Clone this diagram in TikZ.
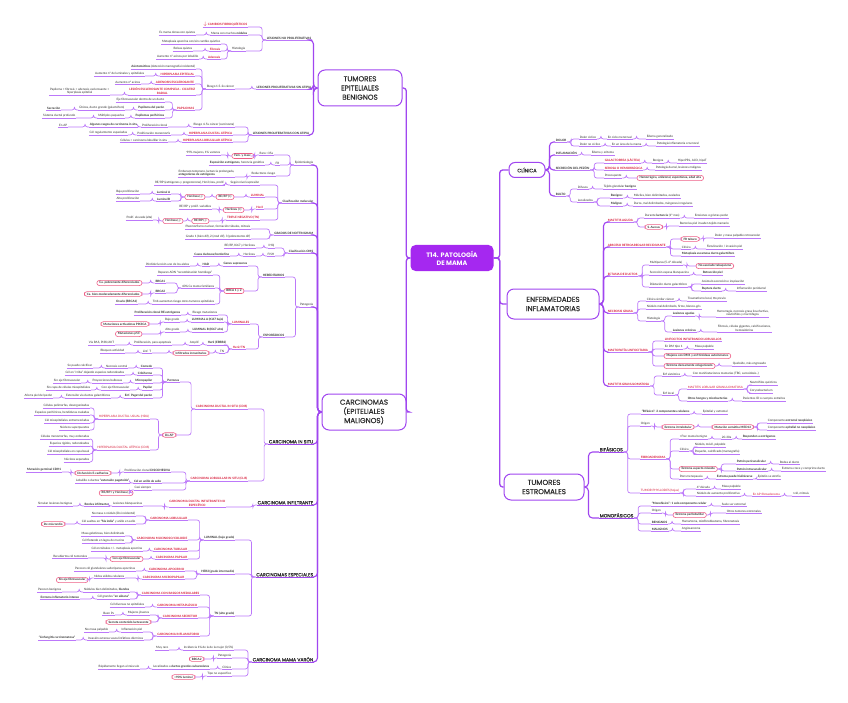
\documentclass[tikz,border=0pt]{standalone}
\usepackage{fontspec}
\setmainfont{Lato}
\newfontfamily\pop{Poppins}
\newfontfamily\popm[FakeBold=0.5]{Poppins}
\definecolor{lnc}{RGB}{188,120,250}
\definecolor{spinec}{RGB}{160,70,240}
\definecolor{cen}{RGB}{165,40,240}
\definecolor{redc}{RGB}{215,25,55}
\definecolor{pinkc}{RGB}{238,95,135}
\definecolor{txt}{RGB}{45,45,45}
\newcommand\fs{\fontsize{3}{3.7}\selectfont}
\tikzset{
 ln/.style={draw=lnc, line width=0.7pt},
 mln/.style={draw=spinec, line width=1pt},
 conn/.style={ln, rounded corners=2.5pt},
 mconn/.style={draw=spinec, line width=1.1pt, rounded corners=4pt},
 spine/.style={draw=spinec, line width=1.3pt, rounded corners=3pt},
 t/.style={font=\fs, inner xsep=0.8pt, inner ysep=0.6pt, outer sep=0pt, text=txt, align=center},
 ul/.style={t, append after command={(\tikzlastnode.south west) edge[ln] (\tikzlastnode.south east)}},
 bd/.style={ul, font=\fs\bfseries},
 rd/.style={ul, font=\fs\bfseries, text=redc},
 rdn/.style={ul, text=redc},
 pk/.style={t, draw=pinkc, line width=0.6pt, rounded corners=2.5pt, fill=white, inner xsep=2.5pt, inner ysep=1.2pt, font=\fs\bfseries},
 sub/.style={t, font=\popm\fontsize{4.6}{5.6}\selectfont, append after command={(\tikzlastnode.south west) edge[mln] (\tikzlastnode.south east)}},
 top/.style={draw=spinec, line width=1pt, rounded corners=7pt, align=center, font=\popm\fontsize{7.2}{9.2}\selectfont, text=txt, inner sep=2pt},
}
\newcommand\NL[4]{\node[#1,anchor=south east] (#2) at (#3) {#4};}
\newcommand\NR[4]{\node[#1,anchor=south west] (#2) at (#3) {#4};}
\newcommand\NPL[3]{\node[pk,anchor=east] (#1) at (#2) {#3};}
\newcommand\NPR[3]{\node[pk,anchor=west] (#1) at (#2) {#3};}
\newcommand\Lc[2]{\draw[conn] (#1) -- ++(-4,0) |- (#2);}
\newcommand\Rc[2]{\draw[conn] (#1) -- ++(4,0) |- (#2);}
\newcommand\cLL[2]{\Lc{#1.south west}{#2.south east}}
\newcommand\cLP[2]{\Lc{#1.south west}{#2.east}}
\newcommand\cPL[2]{\Lc{#1.west}{#2.south east}}
\newcommand\cPPl[2]{\Lc{#1.west}{#2.east}}
\newcommand\cRR[2]{\Rc{#1.south east}{#2.south west}}
\newcommand\cRP[2]{\Rc{#1.south east}{#2.west}}
\newcommand\cPR[2]{\Rc{#1.east}{#2.south west}}
\newcommand\cPPr[2]{\Rc{#1.east}{#2.west}}
\newcommand\mL[2]{\draw[mconn] (#1.west) -- ++(-4,0) |- (#2.south east);}
\newcommand\mR[2]{\draw[mconn] (#1.east) -- ++(4,0) |- (#2.south west);}
\begin{document}
\begin{tikzpicture}[x=1pt,y=-1pt]
\fill[white] (0,0) rectangle (848,703);
\useasboundingbox (0,0) rectangle (848,703);

% ===== central =====
\node[fill=cen, text=white, rounded corners=5pt, minimum width=83pt, minimum height=26pt, font=\pop\bfseries\fontsize{6.4}{8.2}\selectfont, align=center] (c) at (452,258) {T14. PATOLOGÍA\\DE MAMA};

% ===== main topics =====
\node[top, minimum width=84pt, minimum height=36pt] (teb) at (360,88) {TUMORES\\EPITELIALES\\BENIGNOS};
\node[top, minimum width=84pt, minimum height=36pt] (car) at (364,412) {CARCINOMAS\\(EPITELIALES\\MALIGNOS)};
\node[top, minimum width=36pt, minimum height=15pt, rounded corners=6pt, font=\popm\fontsize{5}{6}\selectfont] (cli) at (527,170) {CLÍNICA};
\node[top, minimum width=92pt, minimum height=30pt] (ei) at (553,304) {ENFERMEDADES\\INFLAMATORIAS};
\node[top, minimum width=80pt, minimum height=26pt] (te) at (544,487) {TUMORES\\ESTROMALES};

\draw[spine] (c.west) -- ++(-4,0) |- (teb.east);
\draw[spine] (c.west) -- ++(-4,0) |- (car.east);
\draw[spine] (c.east) -- ++(6,0) |- (cli.west);
\draw[spine] (c.east) -- ++(6,0) |- (ei.west);
\draw[spine] (c.east) -- ++(6,0) |- (te.west);

% ===== TUMORES EPITELIALES BENIGNOS =====
\NL{bd}{lnp}{312,40}{LESIONES NO PROLIFERATIVAS}
\NL{rd}{cf}{248,27}{$\downarrow$ CAMBIOS FIBROQUÍSTICOS}
\NL{ul}{mm}{248,35}{Mama con muchos \textbf{nódulos}}
\NL{ul}{em}{196,35}{Es mama densa con quistes}
\NL{ul}{hi}{246,51}{Histología}
\NL{ul}{mp}{221,44}{Metaplasia apocrina con/sin cambio quístico}
\NL{rd}{fb}{221,51}{Fibrosis}
\NL{ul}{bq}{193,51}{Bolsas quistes}
\NL{rd}{ad}{221,59}{Adenosis}
\NL{ul}{an}{199,59}{Aumento nº acinos por lobulillo}
\mL{teb}{lnp}
\cLL{lnp}{cf}\cLL{lnp}{mm}\cLL{mm}{em}\cLL{lnp}{hi}
\cLL{hi}{mp}\cLL{hi}{fb}\cLL{fb}{bq}\cLL{hi}{ad}\cLL{ad}{an}

\NL{bd}{lps}{312,89}{LESIONES PROLIFERATIVAS SIN ATIPIA}
\NL{ul}{r15}{235,89}{Riesgo 1.5-2x cáncer}
\NL{ul}{asi}{196,69}{\textbf{Asintomáticos} (detección mamografía incidental)}
\NL{rd}{hep}{195,76}{HIPERPLASIA EPITELIAL}
\NL{ul}{hep1}{145,76}{Aumento nº de luminales y epiteliales}
\NL{rd}{aes}{195,84}{ADENOSIS ESCLEROSANTE}
\NL{ul}{aes1}{141,84}{Aumento nº acinos}
\NL{rd}{lec}{196,95}{LESIÓN ESCLEROSANTE COMPLEJA - CICATRIZ\\RADIAL}
\NL{ul}{lec1}{110,95}{Papiloma + fibrosis + adenosis esclerosante +\\hiperplasia epitelial}
\NL{rd}{pap}{195,110}{PAPILOMAS}
\NL{ul}{pa1}{165,102}{Eje fibrovascular dentro de un ducto}
\NL{bd}{pa2}{165,110}{Papiloma del pezón}
\NL{ul}{pa21}{125,110}{Únicos, ducto grande (galactóforo)}
\NL{bd}{pa22}{61,110}{Secreción}
\NL{bd}{pa3}{165,118}{Papilomas periféricos}
\NL{ul}{pa31}{125,118}{Múltiples pequeños}
\NL{ul}{pa32}{76,118}{Sistema ductal profundo}
\mL{teb}{lps}
\cLL{lps}{r15}\cLL{r15}{asi}\cLL{r15}{hep}\cLL{r15}{aes}\cLL{r15}{lec}\cLL{r15}{pap}
\cLL{hep}{hep1}\cLL{aes}{aes1}\cLL{lec}{lec1}
\cLL{pap}{pa1}\cLL{pap}{pa2}\cLL{pap}{pa3}\cLL{pa2}{pa21}\cLL{pa21}{pa22}\cLL{pa3}{pa31}\cLL{pa31}{pa32}

\NL{bd}{lpc}{310,135}{LESIONES PROLIFERATIVAS CON ATIPIA}
\NL{ul}{r45}{235,127}{Riesgo 4-5x cáncer (carcinoma)}
\NL{ul}{r451}{168,127}{Proliferación clonal}
\NL{bd}{r452}{138,127}{Algunos rasgos de carcinoma in situ}
\NL{ul}{r453}{68,127}{En AP}
\NL{rd}{hda}{233,135}{HIPERPLASIA DUCTAL ATÍPICA}
\NL{ul}{hda1}{171,135}{Proliferación monomorfa}
\NL{ul}{hda2}{128,135}{Cél regularmente espaciadas}
\NL{rd}{hla}{233,142}{HIPERPLASIA LOBULILLAR ATÍPICA}
\NL{ul}{hla1}{168,142}{Células = carcinoma lobulillar in situ}
\mL{teb}{lpc}
\cLL{lpc}{r45}\cLL{lpc}{hda}\cLL{lpc}{hla}
\cLL{r45}{r451}\cLL{r451}{r452}\cLL{r452}{r453}\cLL{hda}{hda1}\cLL{hda1}{hda2}\cLL{hla}{hla1}

% ===== CARCINOMAS =====
\NL{ul}{epi}{314,165}{Epidemiología}
\NL{ul}{ep1}{274,155}{Raro <35a}
\NPL{ep1p}{254,156}{Fem. y masc.}
\NL{ul}{ep1a}{221,155}{99\% mujeres, 1\% varones}
\NL{ul}{ep2}{280,165}{FR}
\NL{ul}{ep2a}{265,165}{\textbf{Exposición estrógenos}, herencia genética}
\NL{ul}{ep3}{276,176}{Reductores riesgo}
\NL{ul,align=left}{ep3a}{235,177}{Embarazo temprano, lactancia prolongada,\\\textbf{antagonistas de estrógenos}}
\mL{car}{epi}
\cLL{epi}{ep1}\cLL{epi}{ep2}\cLL{epi}{ep3}\cLP{ep1}{ep1p}\cPL{ep1p}{ep1a}\cLL{ep2}{ep2a}\cLL{ep3}{ep3a}

\NL{bd}{cm}{314,203}{Clasificación molecular}
\NL{ul}{cm1}{260,185}{Según nivel expresión}
\NL{ul}{cm1a}{225,185}{RE/RP (estrógenos y progesterona), Her2/neu, prolif.}
\NL{rd}{lum}{265,197}{LUMINAL}
\NPL{lump1}{234,197}{RE/RP (+)}
\NPL{lump2}{205,197}{Her2neu (-)}
\NL{bd}{lA}{171,194}{Luminal A}
\NL{ul}{lA1}{140,194}{Baja proliferación}
\NL{bd}{lB}{171,201}{Luminal B}
\NL{ul}{lB1}{140,201}{Alta proliferación}
\NL{rd}{h2}{264,209}{Her2}
\NPL{h2p}{244,210}{Her2neu (+)}
\NL{ul}{h2a}{212,209}{RE/RP y prolif. variables}
\NL{rd}{tn}{260,220}{TRIPLE NEGATIVO (TN)}
\NPL{tnp1}{209,221}{RE/RP (-)}
\NPL{tnp2}{183,221}{Her2neu (-)}
\NL{ul}{tna}{153,220}{Prolif. elevada (alta)}
\mL{car}{cm}
\cLL{cm}{cm1}\cLL{cm}{lum}\cLL{cm}{h2}\cLL{cm}{tn}\cLL{cm1}{cm1a}
\cLP{lum}{lump1}\cPPl{lump1}{lump2}\cPL{lump2}{lA}\cPL{lump2}{lB}\cLL{lA}{lA1}\cLL{lB}{lB1}
\cLP{h2}{h2p}\cPL{h2p}{h2a}\cLP{tn}{tnp1}\cPPl{tnp1}{tnp2}\cPL{tnp2}{tna}

\NL{bd}{gn}{314,235}{GRADOS DE NOTTINGHAM}
\NL{ul}{gn1}{251,229}{Pleomorfismo nuclear, formación túbulos, mitosis}
\NL{ul}{gn2}{251,239}{Grado 1 (bien dif), 2 (mod dif), 3 (pobremente dif)}
\mL{car}{gn}\cLL{gn}{gn1}\cLL{gn}{gn2}

\NL{bd}{oms}{314,253}{Clasificación OMS}
\NL{ul}{oms1}{275,248}{IHQ}
\NL{ul}{oms1a}{256,248}{RE/RP, Ki67 y Her2neu}
\NL{ul}{oms2}{275,256}{FISH}
\NL{ul}{oms2a}{256,256}{Her2neu}
\NL{bd}{oms2b}{230,256}{Casos dudosos/borderline}
\mL{car}{oms}\cLL{oms}{oms1}\cLL{oms}{oms2}\cLL{oms1}{oms1a}\cLL{oms2}{oms2a}\cLL{oms2a}{oms2b}

\NL{ul}{pat}{314,307}{Patogenia}
\NL{bd}{her}{285,277}{HEREDITARIOS}
\NL{bd}{gs}{248,266}{Genes supresores}
\NL{bd}{gs1}{210,266}{HAD}
\NL{ul}{gs2}{190,266}{Pérdida función uno de los alelos}
\NPL{brca}{244,291}{BRCA 1 y 2}
\NL{ul}{br1}{213,275}{Reparan ADN “recombinación homóloga”}
\NL{ul}{br2}{215,288}{40\% Ca mama familiares}
\NL{bd}{br2a}{166,283}{BRCA1}
\NL{bd}{br2b}{166,293}{BRCA2}
\NPL{br2ap}{142,283}{Ca. pobremente diferenciados}
\NPL{br2bp}{142,294}{Ca. bien-moderadamente diferenciados}
\NL{ul}{br3}{215,304}{Tmb aumentan riesgo otros tumores epiteliales}
\NL{bd}{br3a}{138,304}{Ovario (BRCA1)}
\mL{car}{pat}
\cLL{pat}{her}\cLL{her}{gs}\cLP{her}{brca}\cLL{gs}{gs1}\cLL{gs1}{gs2}
\cPL{brca}{br1}\cPL{brca}{br2}\cPL{brca}{br3}\cLL{br2}{br2a}\cLL{br2}{br2b}
\cLP{br2a}{br2ap}\cLP{br2b}{br2bp}\cLL{br3}{br3a}

\NL{bd}{esp}{285,337}{ESPORÁDICOS}
\NL{rd}{lumi}{250,324}{LUMINALES}
\NL{ul}{lu1}{218,315}{Riesgo mutaciones}
\NL{bd}{lu1a}{181,315}{Proliferación clonal RE estrógenos}
\NL{bd}{luA}{224,322}{LUMINAL A (Ki67 bajo)}
\NL{ul}{luA1}{180,322}{Bajo grado}
\NPL{luAp}{149,324}{Mutaciones activadoras PIK3CA}
\NL{bd}{luB}{224,332}{LUMINAL B (Ki67 alto)}
\NL{ul}{luB1}{180,332}{Alto grado}
\NPL{luBp}{142,334}{Mutaciones p53}
\NL{rd}{nl}{246,349}{Her2/TN}
\NL{bd}{nl1}{227,345}{Her2 (ERBB2)}
\NL{ul}{nl1a}{200,345}{Amplif.}
\NL{ul}{nl1b}{172,345}{Proliferación, para apoptosis}
\NL{ul}{nl1c}{115,345}{Vía RAS, PI3K/AKT}
\NL{ul}{nl2}{225,353}{TN}
\NPL{nl2p}{209,353}{Infiltrados inmunitarios}
\NL{ul}{nl2a}{152,353}{Linf. T}
\NL{ul}{nl2b}{125,353}{Bloqueo actividad}
\cLL{pat}{esp}
\cLL{esp}{lumi}\cLL{esp}{nl}
\cLL{lumi}{lu1}\cLL{lumi}{luA}\cLL{lumi}{luB}\cLL{lu1}{lu1a}
\cLL{luA}{luA1}\cLP{luA1}{luAp}\cLL{luB}{luB1}\cLP{luB1}{luBp}
\cLL{nl}{nl1}\cLL{nl}{nl2}\cLL{nl1}{nl1a}\cLL{nl1a}{nl1b}\cLL{nl1b}{nl1c}
\cLP{nl2}{nl2p}\cPL{nl2p}{nl2a}\cLL{nl2a}{nl2b}

% carcinoma in situ
\NL{sub}{cis}{314,444}{CARCINOMA IN SITU}
\NL{rd}{cdis}{248,409}{CARCINOMA DUCTAL IN SITU (CDIS)}
\NL{bd}{patr}{180,382}{Patrones}
\NL{bd}{p1}{153,368}{Comedo}
\NL{ul}{p1a}{128,368}{Necrosis central}
\NL{ul}{p1b}{93,368}{Se puede calcificar}
\NL{bd}{p2}{153,375}{Cribiforme}
\NL{ul}{p2a}{125,375}{Cél en “criba” dejando espacios redondeados}
\NL{bd}{p3}{153,383}{Micropapilar}
\NL{ul}{p3a}{123,383}{Proyecciones bulbosas}
\NL{ul}{p3b}{81,383}{Sin eje fibrovascular}
\NL{bd}{p4}{153,390}{Papilar}
\NL{ul}{p4a}{130,390}{Con eje fibrovascular}
\NL{ul}{p4b}{91,390}{Sin capa de células mioepiteliales}
\NL{bd}{p5}{153,398}{Enf. Paget del pezón}
\NL{ul}{p5a}{111,398}{Extensión vía ductos galactóforos}
\NL{ul}{p5b}{53,398}{Afecta piel del pezón}
\NPL{dxap}{176,435}{Dx AP}
\NL{rdn}{hdu}{150,419}{HIPERPLASIA DUCTAL USUAL (HDU)}
\NL{ul}{hdu1}{90,408}{Células polimorfas, desorganizadas}
\NL{ul}{hdu2}{90,415}{Espacios periféricos, hendiduras ovaladas}
\NL{ul}{hdu3}{90,423}{Cél mioepiteliales entremezcladas}
\NL{ul}{hdu4}{90,430}{Núcleos superpuestos}
\NL{rdn}{hda3}{150,450}{HIPERPLASIA DUCTAL ATÍPICA (CDIS)}
\NL{ul}{hd1}{90,439}{Células monomorfas, muy ordenadas}
\NL{ul}{hd2}{90,446}{Espacios rígidos, redondeados}
\NL{ul}{hd3}{90,454}{Cél mioepiteliales en capa basal}
\NL{ul}{hd4}{90,462}{Núcleos separados}
\mL{car}{cis}
\cLL{cis}{cdis}\cLL{cdis}{patr}\cLP{cdis}{dxap}
\cLL{patr}{p1}\cLL{patr}{p2}\cLL{patr}{p3}\cLL{patr}{p4}\cLL{patr}{p5}
\cLL{p1}{p1a}\cLL{p1a}{p1b}\cLL{p2}{p2a}\cLL{p3}{p3a}\cLL{p3a}{p3b}\cLL{p4}{p4a}\cLL{p4a}{p4b}\cLL{p5}{p5a}\cLL{p5a}{p5b}
\cPL{dxap}{hdu}\cPL{dxap}{hda3}
\cLL{hdu}{hdu1}\cLL{hdu}{hdu2}\cLL{hdu}{hdu3}\cLL{hdu}{hdu4}
\cLL{hda3}{hd1}\cLL{hda3}{hd2}\cLL{hda3}{hd3}\cLL{hda3}{hd4}

\NL{rd}{clis}{248,481}{CARCINOMA LOBULILLAR IN SITU (CLIS)}
\NL{ul}{cl1}{171,472}{Proliferación clonal \textbf{DISCOHESIVA}}
\NPL{cl1p}{111,473}{Disfunción E-cadherina}
\NL{bd}{cl1a}{62,472}{Mutación germinal CDH1}
\NL{bd}{cl2}{162,483}{Cél en anillo de sello}
\NL{ul}{cl2a}{130,483}{Lobulillo o ductos \textbf{“extensión pagetoide”}}
\NL{ul}{cl3}{152,490}{Casi siempre}
\NPL{cl3p}{133,493}{RE/RP+ y Her2neu (-)}
\cLL{cis}{clis}
\cLL{clis}{cl1}\cLL{clis}{cl2}\cLL{clis}{cl3}\cLP{cl1}{cl1p}\cPL{cl1p}{cl1a}\cLL{cl2}{cl2a}\cLP{cl3}{cl3p}

% carcinoma infiltrante
\NL{sub}{cinf}{314,505}{CARCINOMA INFILTRANTE}
\NL{rd}{cdi}{226,507}{CARCINOMA DUCTAL INFILTRANTE NO\\ESPECÍFICO}
\NL{ul}{cdi1}{143,506}{Lesiones blanquecinas}
\NL{bd}{cdi2}{110,506}{Bordes infiltrantes}
\NL{ul}{cdi3}{73,506}{Simulan lesiones benignas}
\mL{car}{cinf}
\cLL{cinf}{cdi}\cLL{cdi}{cdi1}\cLL{cdi1}{cdi2}\cLL{cdi2}{cdi3}

% carcinomas especiales
\NL{sub}{cesp}{314,577}{CARCINOMAS ESPECIALES}
\NL{bd}{lbg}{235,540}{LUMINAL (bajo grado)}
\NL{rd}{clob}{188,520}{CARCINOMA LOBULILLAR}
\NL{ul}{clob1}{136,516}{No masa o nódulo (Dx incidental)}
\NL{ul}{clob2}{136,524}{Cél sueltas en \textbf{“fila india”} y anillo en sello}
\NPL{clob2p}{65,524}{Dx más tardío}
\NL{rd}{cmu}{188,540}{CARCINOMA MUCINOSO/COLOIDE}
\NL{ul}{cmu1}{125,536}{Masa gelatinosa, bien delimitada}
\NL{ul}{cmu2}{125,543}{Cél flotando en lagos de mucina}
\NL{rd}{ctu}{188,551}{CARCINOMA TUBULAR}
\NL{ul}{ctu1}{143,551}{Cél en túbulos +/- metaplasia apocrina}
\NL{rd}{cpa}{188,559}{CARCINOMA PAPILAR}
\NPL{cpap}{143,559}{Con eje fibrovascular}
\NL{ul}{cpa1}{88,558}{Recubiertos cél tumorales}
\NL{bd}{h2g}{235,574}{HER2 (grado intermedio)}
\NL{rd}{cap}{185,571}{CARCINOMA APOCRINO}
\NL{ul}{cap1}{136,571}{Parecen cél glandulares sudoríparas apocrinas}
\NL{rd}{cmp}{185,579}{CARCINOMA MICROPAPILAR}
\NL{ul}{cmp1}{125,578}{Nidos sólidos celulares}
\NPL{cmpp}{88,580}{Sin eje fibrovascular}
\NL{bd}{tng}{235,616}{TN (alto grado)}
\NL{rd}{cme}{200,595}{CARCINOMA CON RASGOS MEDULARES}
\NL{ul}{cme1}{130,592}{Nódulos bien delimitados, \textbf{blandos}}
\NL{ul}{cme1a}{62,592}{Parecen benignos}
\NL{ul}{cme2}{130,599}{Cél grandes \textbf{“en sábana”}}
\NL{bd}{cme2a}{80,599}{Estroma inflamatorio intenso}
\NL{rd}{cmt}{198,607}{CARCINOMA METAPLÁSICO}
\NL{ul}{cmt1}{145,607}{Cél diversas no epiteliales}
\NL{rd}{cse}{198,618}{CARCINOMA SECRETOR}
\NL{ul}{cse1}{150,615}{Mujeres jóvenes}
\NL{ul}{cse1a}{115,615}{Buen Px}
\NPL{csep}{151,622}{Secreta contenido lactescente}
\NL{rd}{cinfl}{200,636}{CARCINOMA INFLAMATORIO}
\NL{ul}{ci1}{143,632}{Inflamación piel}
\NL{ul}{ci1a}{109,632}{No masa palpable}
\NL{ul}{ci2}{144,640}{Invasión extensa vasos linfáticos dérmicos}
\NL{bd}{ci2a}{76,640}{“Linfangitis carcinomatosa”}
\mL{car}{cesp}
\cLL{cesp}{lbg}\cLL{cesp}{h2g}\cLL{cesp}{tng}
\cLL{lbg}{clob}\cLL{lbg}{cmu}\cLL{lbg}{ctu}\cLL{lbg}{cpa}
\cLL{clob}{clob1}\cLL{clob}{clob2}\cLP{clob2}{clob2p}
\cLL{cmu}{cmu1}\cLL{cmu}{cmu2}\cLL{ctu}{ctu1}\cLP{cpa}{cpap}\cPL{cpap}{cpa1}
\cLL{h2g}{cap}\cLL{h2g}{cmp}\cLL{cap}{cap1}\cLL{cmp}{cmp1}\cLP{cmp1}{cmpp}
\cLL{tng}{cme}\cLL{tng}{cmt}\cLL{tng}{cse}\cLL{tng}{cinfl}
\cLL{cme}{cme1}\cLL{cme}{cme2}\cLL{cme1}{cme1a}\cLL{cme2}{cme2a}
\cLL{cmt}{cmt1}\cLL{cse}{cse1}\cLL{cse1}{cse1a}\cLP{cse}{csep}
\cLL{cinfl}{ci1}\cLL{cinfl}{ci2}\cLL{ci1}{ci1a}\cLL{ci2}{ci2a}

% carcinoma mama varón
\NL{sub}{cmv}{314,662}{CARCINOMA MAMA VARÓN}
\NL{ul}{cv1}{234,650}{Incidencia 1\% de la de la mujer (0,5\%)}
\NL{ul}{cv1a}{169,650}{Muy raro}
\NL{ul}{cv2}{232,658}{Patogenia}
\NPL{cv2p}{204,659}{BRCA2}
\NL{ul}{cv3}{232,669}{Clínica}
\NL{ul}{cv3a}{210,669}{Localizados a \textbf{ductos grandes subareolares}}
\NL{ul}{cv3b}{140,669}{Rápidamente llegan al músculo}
\NL{ul}{cv4}{232,676}{Tipo no específico}
\NPL{cv4p}{195,677}{>90\% luminal}
\mL{car}{cmv}
\cLL{cmv}{cv1}\cLL{cmv}{cv2}\cLL{cmv}{cv3}\cLL{cmv}{cv4}
\cLL{cv1}{cv1a}\cLP{cv2}{cv2p}\cLL{cv3}{cv3a}\cLL{cv3a}{cv3b}\cLP{cv4}{cv4p}

% ===== CLÍNICA =====
\NR{bd}{dol}{555,142}{DOLOR}
\NR{ul}{d1}{579,139}{Dolor cíclico}
\NR{ul}{d1a}{607,139}{En ciclo menstrual}
\NR{ul}{d1b}{646,139}{Edema generalizado}
\NR{ul}{d2}{579,146}{Dolor no cíclico}
\NR{ul}{d2a}{611,146}{En un área de la mama}
\NR{ul}{d2b}{656,146}{Patología inflamatoria o tumoral}
\NR{bd}{inf}{555,155}{INFLAMACIÓN}
\NR{ul}{inf1}{591,155}{Edema y eritema}
\NR{bd}{sec}{555,170}{SECRECIÓN DEL PEZÓN}
\NR{rd}{s1}{604,163}{GALACTORREA (LÁCTEA)}
\NR{ul}{s1a}{652,163}{Benigna}
\NR{ul}{s1b}{677,163}{HiperPRL, ACO, hipoT}
\NR{rd}{s2}{604,170}{SEROSA O HEMORRÁGICA}
\NR{ul}{s2a}{655,170}{Patología ductal, lesiones malignas}
\NR{ul}{s3}{604,178}{Preocupante}
\NPR{s3p}{637,178}{Hemorrágica, unilateral, espontánea, edad alta}
\NR{bd}{bul}{555,196}{BULTO}
\NR{ul}{b1}{577,189}{Difusos}
\NR{ul}{b1a}{603,189}{Tejido glandular \textbf{benigno}}
\NR{ul}{b2}{577,202}{Localizados}
\NR{bd}{b2a}{610,198}{Benigno:}
\NR{ul}{b2a1}{633,198}{Móviles, bien delimitados, ovalados}
\NR{bd}{b2b}{610,206}{Maligno:}
\NR{ul}{b2b1}{633,206}{Duros, mal delimitados, márgenes irregulares}
\mR{cli}{dol}\mR{cli}{inf}\mR{cli}{sec}\mR{cli}{bul}
\cRR{dol}{d1}\cRR{dol}{d2}\cRR{d1}{d1a}\cRR{d1a}{d1b}\cRR{d2}{d2a}\cRR{d2a}{d2b}
\cRR{inf}{inf1}
\cRR{sec}{s1}\cRR{sec}{s2}\cRR{sec}{s3}\cRR{s1}{s1a}\cRR{s1a}{s1b}\cRR{s2}{s2a}\cRP{s3}{s3p}
\cRR{bul}{b1}\cRR{bul}{b2}\cRR{b1}{b1a}\cRR{b2}{b2a}\cRR{b2}{b2b}\cRR{b2a}{b2a1}\cRR{b2b}{b2b1}

% ===== ENFERMEDADES INFLAMATORIAS =====
\NR{rd}{ma}{607,222}{MASTITIS AGUDA}
\NR{ul}{ma1}{644,218}{Durante \textbf{lactancia} (1º mes)}
\NR{ul}{ma1a}{694,218}{Erosiones o grietas pezón}
\NPR{map}{645,227}{S. Aureus}
\NR{ul}{map1}{679,226}{Bacterias piel invaden tejido mamario}
\NR{rd}{arr}{607,247}{ABSCESO RETROAREOLAR RECIDIVANTE}
\NPR{arrp}{681,239}{FR tabaco}
\NR{ul}{arrp1}{714,238}{Dolor y masa palpable retroareolar}
\NR{ul}{arr2}{681,249}{Clínica}
\NR{ul}{arr2a}{706,249}{Fistulización / invasión piel}
\NR{bd}{arr3}{681,256}{Metaplasia escamosa ducto galactóforo}
\NR{rd}{ect}{607,276}{ECTASIA DE DUCTOS}
\NR{ul}{ec1}{649,265}{Multíparas (5-6º década)}
\NPR{ec1p}{696,266}{No asociado tabaquismo}
\NR{ul}{ec2}{649,275}{Secreción espesa blanquecina}
\NR{bd}{ec2a}{702,275}{Retracción piel}
\NR{ul}{ec3}{649,287}{Dilatación ducto galactóforo}
\NR{ul}{ec3a}{701,284}{Acúmulo secreción e inspisación}
\NR{bd}{ec3b}{701,291}{Ruptura ducto}
\NR{ul}{ec3b1}{736,291}{Inflamación periductal}
\NR{rd}{ng}{607,313}{NECROSIS GRASA}
\NR{ul}{ng1}{646,301}{Clínica similar cáncer}
\NR{ul}{ng1a}{687,301}{Traumatismo local, tto previo}
\NR{ul}{ng2}{646,309}{Nódulo mal delimitado, firme, blanco-gris}
\NR{ul}{ng3}{646,321}{Histología}
\NR{bd}{ng3a}{672,316}{Lesiones agudas}
\NR{ul}{ng3a1}{716,317}{Hemorragia, necrosis grasa licuefactiva,\\neutrófilos y macrófagos}
\NR{bd}{ng3b}{672,332}{Lesiones crónicas}
\NR{ul}{ng3b1}{717,332}{Fibrosis, células gigantes, calcificaciones,\\hemosiderina}
\NR{rd}{ml}{607,352}{MASTOPATÍA LINFOCITARIA}
\NR{rd}{ml1}{664,341}{LINFOCITOS INFILTRANDO LOBULILLOS}
\NR{ul}{ml2}{664,349}{En DM tipo 1}
\NR{ul}{ml2a}{694,349}{Masa palpable}
\NPR{ml3}{664,356}{Mujeres con DM1 y enf tiroideas autoinmunes}
\NPR{ml4}{664,366}{Estroma densamente colagenizado}
\NR{ul}{ml4a}{732,366}{Queloide, más engrosado}
\NR{rd}{mg}{607,386}{MASTITIS GRANULOMATOSA}
\NR{ul}{mg1}{662,376}{Enf sistémica}
\NR{ul}{mg1a}{692,376}{Con manifestaciones mamarias (TBC, sarcoidosis..)}
\NR{ul}{mg2}{662,395}{Enf local}
\NR{rdn}{mg2a}{687,389}{MASTITIS LOBULAR GRANULOMATOSA}
\NR{ul}{mg2a1}{749,385}{Neutrófilos quísticos}
\NR{ul}{mg2a2}{749,393}{Corynebacterium}
\NR{bd}{mg2b}{687,401}{Otros hongos y micobacterias}
\NR{ul}{mg2b1}{742,401}{Pacientes ID o cuerpos extraños}
\mR{ei}{ma}\mR{ei}{arr}\mR{ei}{ect}\mR{ei}{ng}\mR{ei}{ml}\mR{ei}{mg}
\cRR{ma}{ma1}\cRP{ma}{map}\cRR{ma1}{ma1a}\cPR{map}{map1}
\cRP{arr}{arrp}\cRR{arr}{arr2}\cRR{arr}{arr3}\cPR{arrp}{arrp1}\cRR{arr2}{arr2a}
\cRR{ect}{ec1}\cRR{ect}{ec2}\cRR{ect}{ec3}\cRP{ec1}{ec1p}\cRR{ec2}{ec2a}\cRR{ec3}{ec3a}\cRR{ec3}{ec3b}\cRR{ec3b}{ec3b1}
\cRR{ng}{ng1}\cRR{ng}{ng2}\cRR{ng}{ng3}\cRR{ng1}{ng1a}\cRR{ng3}{ng3a}\cRR{ng3}{ng3b}\cRR{ng3a}{ng3a1}\cRR{ng3b}{ng3b1}
\cRR{ml}{ml1}\cRR{ml}{ml2}\cRP{ml}{ml3}\cRP{ml}{ml4}\cRR{ml2}{ml2a}\cPR{ml4}{ml4a}
\cRR{mg}{mg1}\cRR{mg}{mg2}\cRR{mg1}{mg1a}\cRR{mg2}{mg2a}\cRR{mg2}{mg2b}\cRR{mg2a}{mg2a1}\cRR{mg2a}{mg2a2}\cRR{mg2b}{mg2b1}

% ===== TUMORES ESTROMALES =====
\NR{sub}{bif}{599,452}{BIFÁSICOS}
\NR{bd}{bf1}{641,414}{“Bifásico”: 2 componentes celulares}
\NR{ul}{bf1a}{702,414}{Epitelial y estromal}
\NR{ul}{bf2}{640,426}{Origen}
\NPR{bf2p}{662,427}{Estroma intralobular}
\NPR{bf2q}{712,427}{Mutación somática MED12}
\NR{ul}{bf2q1}{767,423}{Componente \textbf{estromal neoplásico}}
\NR{ul}{bf2q2}{767,430}{Componente \textbf{epitelial no neoplásico}}
\NR{rd}{fa}{640,459}{FIBROADENOMA}
\NR{ul}{fa1}{679,439}{+Frec mama benigno}
\NR{ul}{fa1a}{721,439}{20-30a}
\NR{bd}{fa1b}{742,439}{Responden a estrógenos}
\NR{ul}{fa2}{679,451}{Clínica}
\NR{ul}{fa2a}{694,447}{Nódulo, móvil, palpable}
\NR{ul}{fa2b}{694,454}{Pequeño, calcificado (mamografía)}
\NPR{fa3}{679,469}{Estroma aspecto mixoide}
\NR{bd}{fa3a}{736,464}{Patrón pericanalicular}
\NR{ul}{fa3a1}{779,464}{Rodea al ducto}
\NR{bd}{fa3b}{736,471}{Patrón intracanalicular}
\NR{ul}{fa3b1}{781,471}{Estroma crece y comprime ducto}
\NR{ul}{fa4}{679,479}{Post-menopausia}
\NR{bd}{fa4a}{716,479}{Estroma puede hialinizarse}
\NR{ul}{fa4b}{757,479}{Epitelio se atrofia}
\NR{rdn}{tp}{640,493}{TUMOR PHYLLODES (hojas)}
\NR{ul}{tp1}{696,489}{4ª década}
\NR{ul}{tp1a}{721,489}{Masa palpable}
\NR{ul}{tp2}{696,496}{Nódulo de aumento proliferativo}
\NR{rdn}{tp2a}{752,496}{En AP fibroadenoma}
\NR{ul}{tp2b}{792,496}{+cél, mitosis}
\NR{sub}{mono}{599,518}{MONOFÁSICOS}
\NR{bd}{mo1}{651,506}{“Monofásico”: 1 solo componente celular}
\NR{ul}{mo1a}{721,506}{Suele ser estromal}
\NR{ul}{mo2}{651,513}{Origen}
\NPR{mo2p}{673,515}{Estroma perilobulillar}
\NR{ul}{mo2a}{726,513}{Otros tumores estromales}
\NR{bd}{mo3}{651,524}{BENIGNOS}
\NR{ul}{mo3a}{681,524}{Hamartoma, miofibroblastoma, fibromatosis}
\NR{bd}{mo4}{651,531}{MALIGNOS}
\NR{ul}{mo4a}{681,531}{Angiosarcoma}
\mR{te}{bif}\mR{te}{mono}
\cRR{bif}{bf1}\cRR{bif}{bf2}\cRR{bif}{fa}\cRR{bif}{tp}
\cRR{bf1}{bf1a}\cRP{bf2}{bf2p}\cPPr{bf2p}{bf2q}\cPR{bf2q}{bf2q1}\cPR{bf2q}{bf2q2}
\cRR{fa}{fa1}\cRR{fa}{fa2}\cRP{fa}{fa3}\cRR{fa}{fa4}
\cRR{fa1}{fa1a}\cRR{fa1a}{fa1b}\cRR{fa2}{fa2a}\cRR{fa2}{fa2b}
\cPR{fa3}{fa3a}\cPR{fa3}{fa3b}\cRR{fa3a}{fa3a1}\cRR{fa3b}{fa3b1}\cRR{fa4}{fa4a}\cRR{fa4a}{fa4b}
\cRR{tp}{tp1}\cRR{tp}{tp2}\cRR{tp1}{tp1a}\cRR{tp2}{tp2a}\cRR{tp2a}{tp2b}
\cRR{mono}{mo1}\cRR{mono}{mo2}\cRR{mono}{mo3}\cRR{mono}{mo4}
\cRR{mo1}{mo1a}\cRP{mo2}{mo2p}\cPR{mo2p}{mo2a}\cRR{mo3}{mo3a}\cRR{mo4}{mo4a}
\end{tikzpicture}
\end{document}
